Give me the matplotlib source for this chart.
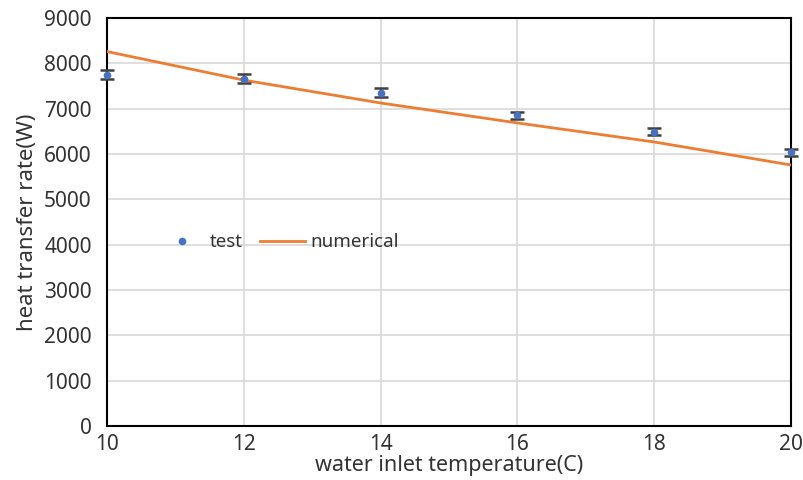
import numpy as np
import matplotlib.pyplot as plt

temp = [10, 12, 14, 16, 18, 20]
test_q = [7750, 7660, 7350, 6850, 6490, 6040]
test_err = [100, 100, 100, 80, 80, 80]
num_q = [8260, 7630, 7125, 6685, 6265, 5757]

plt.rcParams['font.family'] = ['Noto Sans', 'DejaVu Sans']

fig = plt.figure(figsize=(8.04, 4.8), dpi=100)
ax = fig.add_axes([0.133, 0.1125, 0.851, 0.85])

ax.plot(temp, num_q, color='#ed7d31', lw=2, label='numerical', zorder=3)
ax.errorbar(temp, test_q, yerr=test_err, fmt='none', ecolor='#404040',
            elinewidth=1.5, capsize=5, capthick=1.8, zorder=4, clip_on=False)
ax.plot(temp, test_q, 'o', color='#4472c4', ms=4.5, label='test',
        zorder=5, clip_on=False)

ax.set_xlim(10, 20)
ax.set_ylim(0, 9000)
ax.set_xticks(range(10, 21, 2))
ax.set_yticks(range(0, 9001, 1000))
ax.grid(True, color='#d9d9d9', lw=1.2)
ax.set_axisbelow(True)
for s in ax.spines.values():
    s.set_color('black')
    s.set_linewidth(1.5)
ax.tick_params(length=0, labelsize=15, labelcolor='#333333')
ax.tick_params(axis='y', pad=11)
ax.tick_params(axis='x', pad=6)
ax.set_xlabel('water inlet temperature(C)', fontsize=15.5, labelpad=0, color='#333333')
ax.set_ylabel('heat transfer rate(W)', fontsize=16, labelpad=4, color='#333333')

# legend: test first, then numerical
h, l = ax.get_legend_handles_labels()
ax.legend(h[::-1], l[::-1], loc='center left', bbox_to_anchor=(0.052, 0.45),
          ncol=2, frameon=False, fontsize=13.5, handlelength=2.4,
          handletextpad=0.3, columnspacing=0.9, labelcolor='#333333')

fig.savefig('out.png', dpi=100)
